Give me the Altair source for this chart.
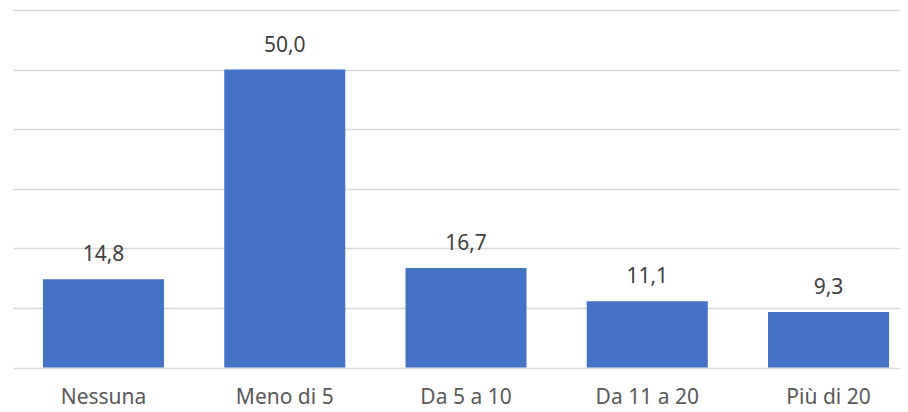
import altair as alt
import pandas as pd

categories = ["Nessuna", "Meno di 5", "Da 5 a 10", "Da 11 a 20", "Più di 20"]
values = [14.8, 50.0, 16.7, 11.1, 9.3]
grid_values = [0, 10, 20, 30, 40, 50, 60]

df = pd.DataFrame({"cat": categories, "val": values})
df["label"] = [f"{v:.1f}".replace(".", ",") for v in values]

x = alt.X(
    "cat:N",
    sort=categories,
    scale=alt.Scale(paddingInner=0.3324, paddingOuter=0.1131, align=0.732),
    axis=alt.Axis(
        title=None,
        labelAngle=0,
        labelFont="Noto Sans",
        labelFontSize=21,
        labelColor="#595959",
        labelBaseline="alphabetic",
        labelPadding=36,
        ticks=False,
        tickSize=0,
        domain=False,
        grid=False,
    ),
)
y = alt.Y(
    "val:Q",
    scale=alt.Scale(domain=[0, 60], nice=False, zero=True),
    axis=alt.Axis(
        title=None,
        labels=False,
        ticks=False,
        domain=False,
        grid=True,
        values=grid_values,
        gridColor="#d9d9d9",
        gridWidth=1.5,
    ),
)

bars = alt.Chart(df).mark_bar(color="#4472C4").encode(x=x, y=y)
text = alt.Chart(df).mark_text(
    baseline="alphabetic",
    dy=-18,
    font="Noto Sans",
    fontSize=21,
    color="#404040",
).encode(x=alt.X("cat:N", sort=categories), y="val:Q", text="label:N")

chart = (
    alt.layer(bars, text)
    .properties(
        width=887,
        height=357.5,
        padding={"left": 5, "top": 2, "right": 0, "bottom": 8},
        background="white",
    )
    .configure_view(stroke=None)
)

chart.save("out.html", embed_options={"renderer": "svg", "actions": False})
